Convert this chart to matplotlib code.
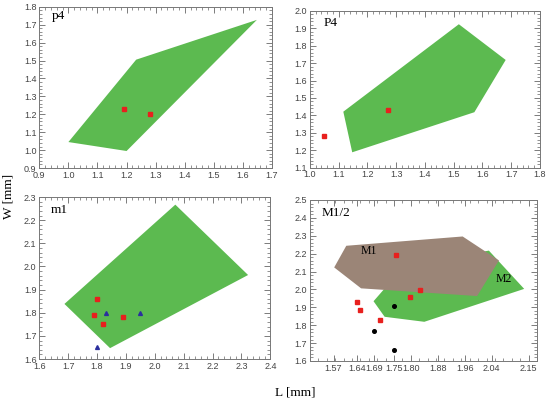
import matplotlib
matplotlib.use('Agg')
import matplotlib.pyplot as plt
from matplotlib.patches import Polygon
from matplotlib.ticker import AutoMinorLocator, MultipleLocator

# --- data ---
# p4
p4_poly = [(1.0, 1.045), (1.233, 1.505), (1.648, 1.727), (1.2, 0.995)]
p4_red_x = [1.19, 1.28]
p4_red_y = [1.23, 1.20]

# P4
P4_poly = [(1.116, 1.421), (1.518, 1.923), (1.681, 1.718), (1.572, 1.418), (1.147, 1.188)]
P4_red_x = [1.05, 1.27]
P4_red_y = [1.28, 1.43]

# m1
m1_poly = [(1.687, 1.838), (2.071, 2.267), (2.323, 1.963), (1.845, 1.647)]
m1_red_x = [1.80, 1.79, 1.82, 1.89]
m1_red_y = [1.86, 1.79, 1.75, 1.78]
m1_blue_x = [1.83, 1.95, 1.80]
m1_blue_y = [1.80, 1.80, 1.65]

# M1/2
M1_poly = [(1.572, 2.123), (1.608, 2.244), (1.954, 2.296), (2.062, 2.162), (1.997, 1.963), (1.652, 2.006)]
M2_poly = [(1.689, 1.934), (1.722, 1.847), (1.840, 1.819), (2.137, 2.003), (2.032, 2.217), (1.78, 2.13)]
M_red_x = [1.757, 1.826, 1.798, 1.639, 1.648, 1.707]
M_red_y = [2.192, 1.998, 1.957, 1.929, 1.883, 1.83]
M_black_x = [1.75, 1.69, 1.75]
M_black_y = [1.91, 1.77, 1.66]
M_xticks = [1.57, 1.64, 1.69, 1.75, 1.80, 1.88, 1.96, 2.04, 2.15]
M_xticklabels = ['1.57', '1.64', '1.69', '1.75', '1.80', '1.88', '1.96', '2.04', '2.15']

GREEN = '#5cba50'
BROWN = '#9b8577'
RED = '#e8201e'
BLUE = '#2b2f9e'
SERIF = 'Liberation Serif'

plt.rcParams['font.family'] = 'Liberation Sans'
fig = plt.figure(figsize=(5.5, 4.01), dpi=100)


def style_ax(ax, xlim, ylim, xstep, ystep):
    ax.set_xlim(*xlim)
    ax.set_ylim(*ylim)
    if xstep:
        ax.xaxis.set_major_locator(MultipleLocator(xstep))
        ax.xaxis.set_major_formatter(plt.FormatStrFormatter('%.1f'))
    ax.yaxis.set_major_locator(MultipleLocator(ystep))
    ax.yaxis.set_major_formatter(plt.FormatStrFormatter('%.1f'))
    ax.xaxis.set_minor_locator(AutoMinorLocator(5))
    ax.yaxis.set_minor_locator(AutoMinorLocator(5))
    ax.tick_params(which='both', direction='in', top=True, right=True,
                   labelsize=6.5, labelcolor='#444444', color='#666666', pad=2)
    ax.tick_params(which='major', length=4, width=0.6)
    ax.tick_params(which='minor', length=2, width=0.5)
    for s in ax.spines.values():
        s.set_color('#777777')
        s.set_linewidth(0.7)


def sq(ax, x, y):
    ax.plot(x, y, 's', color=RED, markersize=3.2, zorder=5)


# top-left p4
ax1 = fig.add_axes([0.0715, 0.581, 0.423, 0.402])
ax1.add_patch(Polygon(p4_poly, closed=True, facecolor=GREEN, edgecolor='none'))
sq(ax1, p4_red_x, p4_red_y)
style_ax(ax1, (0.9, 1.7), (0.9, 1.8), 0.1, 0.1)
ax1.text(0.053, 0.94, 'p4', transform=ax1.transAxes, family=SERIF, fontsize=9.5, va='center')

# top-right P4
ax2 = fig.add_axes([0.5636, 0.582, 0.418, 0.391])
ax2.add_patch(Polygon(P4_poly, closed=True, facecolor=GREEN, edgecolor='none'))
sq(ax2, P4_red_x, P4_red_y)
style_ax(ax2, (1.0, 1.8), (1.1, 2.0), 0.1, 0.1)
ax2.text(0.06, 0.92, 'P4', transform=ax2.transAxes, family=SERIF, fontsize=9.5, va='center')

# bottom-left m1
ax3 = fig.add_axes([0.0715, 0.1047, 0.42, 0.404])
ax3.add_patch(Polygon(m1_poly, closed=True, facecolor=GREEN, edgecolor='none'))
sq(ax3, m1_red_x, m1_red_y)
ax3.plot(m1_blue_x, m1_blue_y, '^', color=BLUE, markersize=2.8, zorder=5)
style_ax(ax3, (1.6, 2.4), (1.6, 2.3), 0.1, 0.1)
ax3.text(0.05, 0.92, 'm1', transform=ax3.transAxes, family=SERIF, fontsize=9.5, va='center')

# bottom-right M1/2
ax4 = fig.add_axes([0.5636, 0.0998, 0.4127, 0.4015])
ax4.add_patch(Polygon(M2_poly, closed=True, facecolor=GREEN, edgecolor='none', zorder=1))
ax4.add_patch(Polygon(M1_poly, closed=True, facecolor=BROWN, edgecolor='none', zorder=2))
sq(ax4, M_red_x, M_red_y)
ax4.plot(M_black_x, M_black_y, 'o', color='black', markersize=2.6, zorder=5)
style_ax(ax4, (1.50, 2.175), (1.6, 2.5), None, 0.1)
ax4.set_xticks(M_xticks)
ax4.set_xticklabels(M_xticklabels)
ax4.xaxis.set_minor_locator(MultipleLocator(0.025))
ax4.text(0.05, 0.92, 'M1/2', transform=ax4.transAxes, family=SERIF, fontsize=9.5, va='center')
ax4.text(1.676, 2.212, 'M1', family=SERIF, fontsize=8.5, ha='center', va='center', zorder=6)
ax4.text(2.076, 2.06, 'M2', family=SERIF, fontsize=8.5, ha='center', va='center', zorder=6)

fig.text(0.015, 0.51, 'W [mm]', rotation=90, family=SERIF, fontsize=9.5, ha='center', va='center')
fig.text(0.536, 0.02, 'L [mm]', family=SERIF, fontsize=9.5, ha='center', va='center')

fig.savefig('out.png', dpi=100)
